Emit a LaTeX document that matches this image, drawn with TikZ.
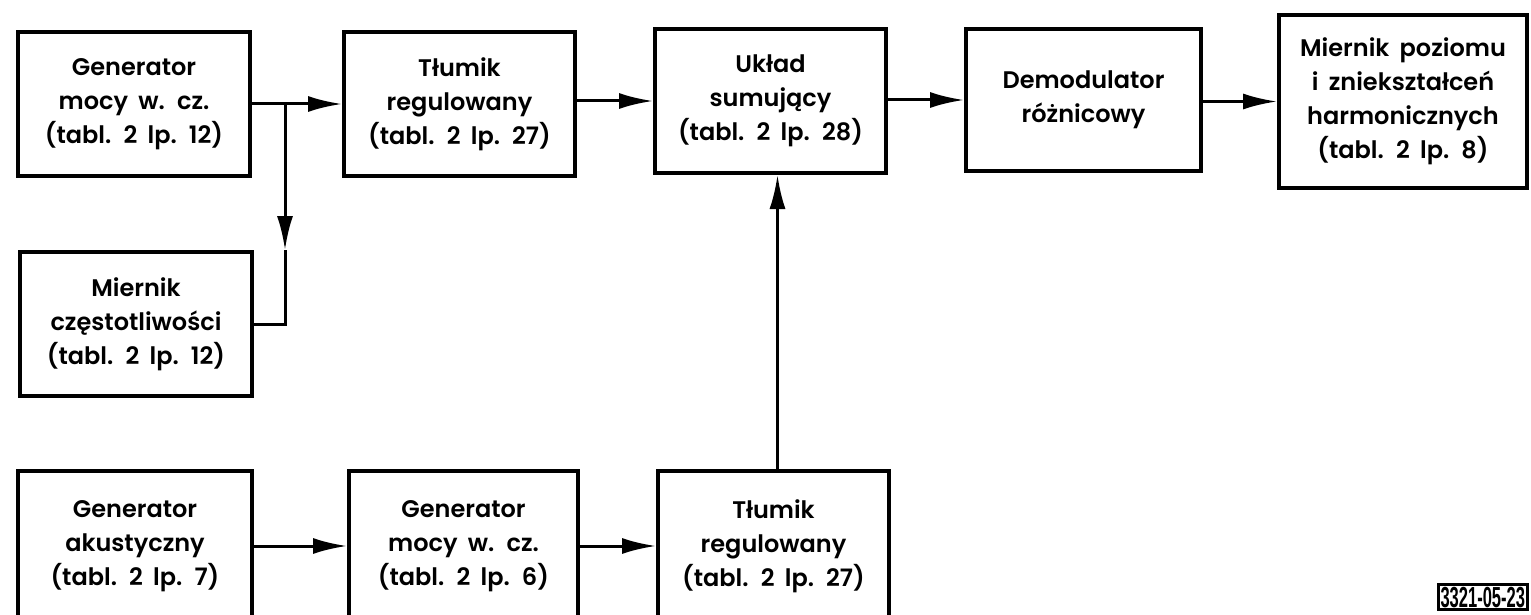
\documentclass[tikz,border=0pt]{standalone}
\usepackage{fontspec}
\setmainfont{Poppins}[UprightFont={* SemiBold}, WordSpace=1.8]
\newfontfamily\tagfont{Liberation Sans}
\usetikzlibrary{arrows.meta}

\begin{document}
\begin{tikzpicture}[x=1pt,y=-1pt,
  blk/.style={draw, line width=4pt, align=center, inner sep=0pt,
    font=\fontsize{24}{34}\selectfont},
  link/.style={line width=3pt},
  arr/.style={link, -{Latex[length=34pt,width=16pt]}},
  tagbox/.style={draw, line width=3pt, inner xsep=2pt, inner ysep=2pt,
    text height=21pt, text depth=0pt, anchor=north west,
    font=\tagfont\bfseries\fontsize{29}{29}\selectfont}]
\useasboundingbox (0,0) rectangle (1531,615);

% top row
\node[blk, minimum width=232pt, minimum height=144pt] (g1) at (134,104)
  {Generator\\mocy w. cz.\\(tabl. 2 lp. 12)};
\node[blk, minimum width=231pt, minimum height=144pt] (t1) at (459.5,104)
  {Tłumik\\regulowany\\(tabl. 2 lp. 27)};
\node[blk, minimum width=231pt, minimum height=144pt] (us) at (770.5,101)
  {Układ\\sumujący\\(tabl. 2 lp. 28)};
\node[blk, minimum width=235pt, minimum height=142pt] (dm) at (1083.5,100)
  {Demodulator\\różnicowy};
\node[blk, minimum width=248pt, minimum height=173pt] (mp) at (1403,101.5)
  {Miernik poziomu\\i zniekształceń\\harmonicznych\\(tabl. 2 lp. 8)};

% frequency meter
\node[blk, minimum width=232pt, minimum height=144pt] (fm) at (136,324)
  {Miernik\\częstotliwości\\(tabl. 2 lp. 12)};

% bottom row (lower edges run off the sheet)
\node[blk, minimum width=234pt, minimum height=150pt] (ga) at (135,546)
  {Generator\\akustyczny\\(tabl. 2 lp. 7)};
\node[blk, minimum width=229pt, minimum height=150pt] (g2) at (463.5,546)
  {Generator\\mocy w. cz.\\(tabl. 2 lp. 6)};
\node[blk, minimum width=231pt, minimum height=150pt] (t2) at (773.5,546)
  {Tłumik\\regulowany\\(tabl. 2 lp. 27)};

% connectors
\draw[arr] (g1.east) -- (t1.west);
\draw[arr] (t1.east |- us.west) -- (us.west);
\draw[arr] (us.east |- dm.west) -- (dm.west);
\draw[arr] (dm.east |- mp.west) -- (mp.west);

\coordinate (br) at ([xshift=33pt]g1.east);
\draw[arr] (br) -- (br |- fm.north);
\draw[link] (br |- fm.north) |- (fm.east);

\coordinate (up) at ([xshift=4pt]t2.north);
\draw[arr] (up) -- (us.south -| up);
\draw[arr] (ga.east) -- (g2.west);
\draw[arr] (g2.east) -- (t2.west);

% drawing number
\node[tagbox] (tag) at (1437,583) {\scalebox{0.57}[1]{3321-05-23}};
\end{tikzpicture}
\end{document}
